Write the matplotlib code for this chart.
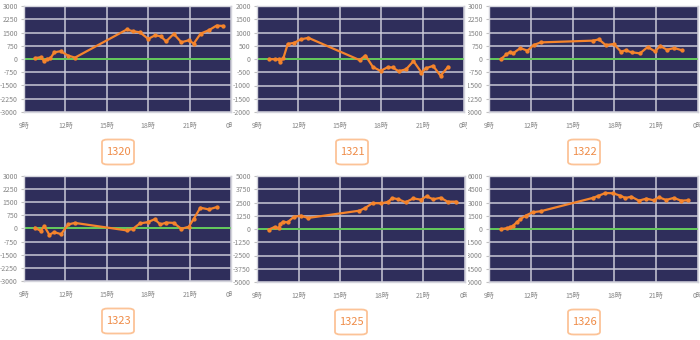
import matplotlib
matplotlib.use("Agg")
import matplotlib.pyplot as plt
from matplotlib.patches import FancyBboxPatch
from matplotlib.transforms import Bbox, TransformedBbox

plt.rcParams['font.family'] = ['Noto Sans CJK JP', 'DejaVu Sans']

# chart values (hour of day, value)
t1320 = [9.8, 10.2, 10.45, 10.65, 10.9, 11.2, 11.65, 12.2, 12.7, 16.45, 16.9, 17.4, 18.0,
         18.5, 18.9, 19.3, 19.85, 20.4, 20.95, 21.3, 21.8, 22.4, 22.95, 23.45]
v1320 = [50, 100, -100, 0, 30, 380, 440, 190, 80, 1670, 1570, 1510, 1140,
         1340, 1290, 1000, 1420, 950, 1060, 870, 1440, 1630, 1890, 1870]

t1321 = [9.9, 10.27, 10.56, 10.7, 10.92, 11.23, 11.7, 12.17, 12.72, 16.43, 16.86, 17.4,
         17.95, 18.47, 18.83, 19.26, 19.8, 20.34, 20.92, 21.23, 21.76, 22.3, 22.84]
v1321 = [0, -10, -10, -100, 50, 570, 610, 740, 800, -40, 130, -300,
         -450, -310, -320, -460, -390, -80, -510, -350, -260, -630, -300]

t1322 = [9.86, 10.25, 10.53, 10.73, 11.25, 11.76, 12.2, 12.72, 16.48, 16.89, 17.37, 17.95,
         18.47, 18.8, 19.24, 19.84, 20.39, 20.92, 21.28, 21.76, 22.31, 22.86]
v1322 = [0, 260, 400, 320, 620, 470, 790, 940, 1040, 1110, 790, 850,
         420, 490, 380, 320, 680, 430, 740, 530, 620, 490]

t1323 = [9.8, 10.2, 10.47, 10.84, 11.18, 11.69, 12.2, 12.68, 16.46, 16.89, 17.4, 17.96,
         18.47, 18.88, 19.3, 19.85, 20.4, 20.94, 21.3, 21.78, 22.39, 22.95]
v1323 = [40, -130, 130, -360, -210, -320, 230, 320, -110, -20, 290, 360,
         530, 230, 340, 320, -20, 100, 550, 1190, 1090, 1220]

t1325 = [9.84, 10.27, 10.56, 10.68, 10.87, 11.2, 11.64, 12.17, 12.67, 16.39, 16.8, 17.33,
         17.93, 18.43, 18.77, 19.2, 19.72, 20.27, 20.8, 21.23, 21.71, 22.24, 22.74, 23.32]
v1325 = [-60, 190, 90, 440, 690, 630, 1130, 1260, 1040, 1730, 1980, 2450,
         2420, 2550, 2920, 2800, 2520, 2890, 2770, 3080, 2800, 2950, 2580, 2580]

t1326 = [9.86, 10.29, 10.52, 10.71, 11.0, 11.24, 11.64, 12.14, 12.71, 16.43, 16.83, 17.36,
         17.9, 18.43, 18.79, 19.21, 19.76, 20.29, 20.83, 21.19, 21.71, 22.26, 22.79, 23.29]
v1326 = [0, 90, 200, 350, 770, 1110, 1520, 1900, 2010, 3510, 3740, 4080,
         4040, 3770, 3510, 3660, 3210, 3440, 3250, 3590, 3290, 3520, 3210, 3250]

names = ["1320", "1321", "1322", "1323", "1325", "1326"]
series = [(t1320, v1320), (t1321, v1321), (t1322, v1322),
          (t1323, v1323), (t1325, v1325), (t1326, v1326)]
y_max = [3000, 2000, 3000, 3000, 5000, 6000]

x_ticks = [9, 12, 15, 18, 21, 24]
x_labels = ["9時", "12時", "15時", "18時", "21時", "0時"]

W, H = 700, 340
# plot areas in pixels: left, right, top, bottom
boxes = [(24, 231, 6, 112), (257, 464, 6, 112), (489, 698, 6, 112),
         (24, 231, 176, 281), (257, 465, 176, 282), (489, 698, 176, 282)]
# each small chart was a separate picture, text is cut at its edges
cols = [(0, 232), (233, 467), (468, 700)]
label_pos = [(118, 152), (352, 152), (584, 152), (118, 321), (351, 322), (584, 322)]

fig = plt.figure(figsize=(W / 100, H / 100), dpi=100)
fig.patch.set_facecolor("white")

for i, (name, (t, v), ym) in enumerate(zip(names, series, y_max)):
    l, r, top, bot = boxes[i]
    ax = fig.add_axes([l / W, 1 - bot / H, (r - l) / W, (bot - top) / H])
    ax.set_facecolor("#2f2e5b")

    step = ym // 4
    yt = list(range(-ym, ym + 1, step))
    ax.set_xlim(9, 24)
    ax.set_ylim(-ym, ym)
    ax.set_yticks(yt)
    ax.set_yticklabels([str(y) for y in yt])
    ax.set_xticks(x_ticks)
    ax.set_xticklabels(x_labels)

    ax.grid(True, color="#c9c9d6", linewidth=1.1)
    ax.set_axisbelow(True)
    ax.axhline(0, color="#62c95a", linewidth=1.4, zorder=2)
    ax.plot(t, v, color="#f5842c", linewidth=1.6, marker="o", markersize=2.1, zorder=3)

    for s in ax.spines.values():
        s.set_color("#d4d4dc")
        s.set_linewidth(1.0)
    ax.tick_params(axis="y", length=2.2, width=0.8, color="#c0c0c0", pad=2.2,
                   labelsize=5, labelcolor="#858585")
    ax.tick_params(axis="x", length=0, pad=7, labelsize=5, labelcolor="#858585")

    c0, c1 = cols[i % 3]
    clip = TransformedBbox(Bbox.from_extents(c0 / W, 0, c1 / W, 1), fig.transFigure)
    for lab in ax.get_yticklabels() + ax.get_xticklabels():
        lab.set_clip_on(True)
        lab.set_clip_box(clip)

    # number tag under each chart
    cx, cy = label_pos[i]
    bw, bh = 32, 25
    tag = FancyBboxPatch(((cx - bw / 2) / W, 1 - (cy + bh / 2) / H), bw / W, bh / H,
                         boxstyle="round,pad=0,rounding_size=0.008",
                         transform=fig.transFigure, facecolor="white",
                         edgecolor="#fcc397", linewidth=1.3)
    fig.patches.append(tag)
    fig.text(cx / W, 1 - cy / H, name, ha="center", va="center",
             fontsize=8, color="#ef8c48")

fig.savefig("out.png", dpi=100)
